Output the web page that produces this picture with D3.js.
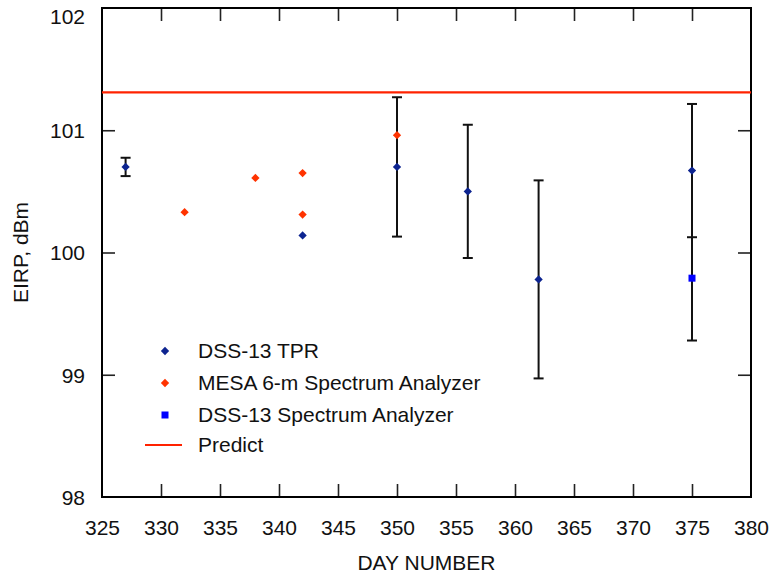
<!DOCTYPE html>
<html><head><meta charset="utf-8">
<script src="https://cdn.jsdelivr.net/npm/d3@7"></script>
<style>body{margin:0;background:#fff}svg{display:block}text{font-family:"Liberation Sans",Arial,Helvetica,sans-serif;fill:#111}</style>
</head><body><svg id="c" width="775" height="575"></svg>
<script>
// Data
const tprDays   = [327, 342, 350, 356, 362, 375];
const tprValues = [100.70, 100.14, 100.70, 100.50, 99.78, 100.67];
const tprErrors = [0.075, 0, 0.57, 0.545, 0.81, 0.545];
const mesaDays   = [332, 338, 342, 342, 350];
const mesaValues = [100.33, 100.61, 100.65, 100.31, 100.96];
const saDays   = [375];
const saValues = [99.79];
const saErrLow  = [0.51];
const saErrHigh = [0.47];
const predictValue = 101.31;
const xTicks = [325,330,335,340,345,350,355,360,365,370,375,380];
const yTicks = [98,99,100,101,102];
const legendLabels = ["DSS-13 TPR","MESA 6-m Spectrum Analyzer","DSS-13 Spectrum Analyzer","Predict"];

const svg = d3.select("#c");
const L=102, R=751, T=8, B=497;
const FS=21;
const x = d3.scaleLinear().domain([325,380]).range([L,R]);
const y = d3.scaleLinear().domain([98,102]).range([B,T]);
const tpr = tprDays.map((d,i)=>({d,v:tprValues[i],lo:tprErrors[i],hi:tprErrors[i],capHi:true}));
const mesa = mesaDays.map((d,i)=>({d,v:mesaValues[i]}));
const sa = saDays.map((d,i)=>({d,v:saValues[i],lo:saErrLow[i],hi:saErrHigh[i],capHi:false}));
const cTPR="#0d2490", cMESA="#ff3300", cSA="#0000ff", cPred="#ff2200";

// axes (ticks inward, mirrored)
const tl=13;
const gB = svg.append("g").attr("transform",`translate(0,${B})`).call(d3.axisBottom(x).tickValues(xTicks).tickSize(-tl).tickPadding(tl+18));
const gT = svg.append("g").attr("transform",`translate(0,${T})`).call(d3.axisTop(x).tickValues(xTicks).tickSize(-tl).tickFormat(""));
const gL = svg.append("g").attr("transform",`translate(${L},0)`).call(d3.axisLeft(y).tickValues(yTicks).tickSize(-tl).tickPadding(tl+4).tickFormat(d3.format("d")));
const gR = svg.append("g").attr("transform",`translate(${R},0)`).call(d3.axisRight(y).tickValues(yTicks).tickSize(-tl).tickFormat(""));
[gB,gT,gL,gR].forEach(g=>{g.select(".domain").remove();g.selectAll(".tick line").attr("stroke","#222").attr("stroke-width",1.6);g.selectAll("text").attr("font-size",FS).attr("fill","#111").style("font-family","Liberation Sans, Arial, sans-serif");});
gB.selectAll(".tick").filter(d=>d===325||d===380).select("line").remove();
gT.selectAll(".tick").filter(d=>d===325||d===380).select("line").remove();
gL.selectAll(".tick").filter(d=>d===98||d===102).select("line").remove();
gR.selectAll(".tick").filter(d=>d===98||d===102).select("line").remove();
gL.selectAll("text").attr("dy","0.35em");
gL.selectAll(".tick").filter(d=>d===102).select("text").attr("dy","0.72em");
gB.selectAll("text").attr("dy","0.35em");

svg.append("rect").attr("x",L).attr("y",T).attr("width",R-L).attr("height",B-T).attr("fill","none").attr("stroke","#000").attr("stroke-width",2);

// predict line
svg.append("line").attr("x1",L).attr("x2",R).attr("y1",y(predictValue)).attr("y2",y(predictValue)).attr("stroke",cPred).attr("stroke-width",2.2);

// error bars
function errBars(data){
  const g = svg.append("g").attr("stroke","#111").attr("stroke-width",2);
  data.filter(p=>p.lo>0).forEach(p=>{
    g.append("line").attr("x1",x(p.d)).attr("x2",x(p.d)).attr("y1",y(p.v+p.hi)).attr("y2",y(p.v-p.lo));
    const caps = p.capHi ? [p.v+p.hi,p.v-p.lo] : [p.v-p.lo];
    caps.forEach(v=>g.append("line").attr("x1",x(p.d)-5).attr("x2",x(p.d)+5).attr("y1",y(v)).attr("y2",y(v)));
  });
}
errBars(tpr); errBars(sa);

const diamond = d3.symbol().type(d3.symbolDiamond2).size(44);
svg.append("g").selectAll("path").data(mesa).join("path").attr("d",diamond).attr("fill",cMESA).attr("transform",p=>`translate(${x(p.d)},${y(p.v)})`);
svg.append("g").selectAll("path").data(tpr).join("path").attr("d",diamond).attr("fill",cTPR).attr("transform",p=>`translate(${x(p.d)},${y(p.v)})`);
svg.append("g").selectAll("rect").data(sa).join("rect").attr("x",p=>x(p.d)-3.5).attr("y",p=>y(p.v)-3.5).attr("width",7).attr("height",7).attr("fill",cSA);

// legend
const lg = svg.append("g");
const ly = [351,383,415,445];
lg.append("path").attr("d",diamond).attr("fill",cTPR).attr("transform",`translate(165,${ly[0]})`);
lg.append("path").attr("d",diamond).attr("fill",cMESA).attr("transform",`translate(165,${ly[1]})`);
lg.append("rect").attr("x",161.5).attr("y",ly[2]-3.5).attr("width",7).attr("height",7).attr("fill",cSA);
lg.append("line").attr("x1",145).attr("x2",182).attr("y1",ly[3]).attr("y2",ly[3]).attr("stroke",cPred).attr("stroke-width",2.2);
legendLabels.forEach((t,i)=>lg.append("text").attr("x",198).attr("y",ly[i]).attr("dy","0.35em").attr("font-size",FS).text(t));

// axis titles
svg.append("text").attr("x",(L+R)/2).attr("y",570).attr("text-anchor","middle").attr("font-size",FS).text("DAY NUMBER");
svg.append("text").attr("transform",`translate(28,${(T+B)/2}) rotate(-90)`).attr("text-anchor","middle").attr("font-size",FS).text("EIRP, dBm");
</script></body></html>
